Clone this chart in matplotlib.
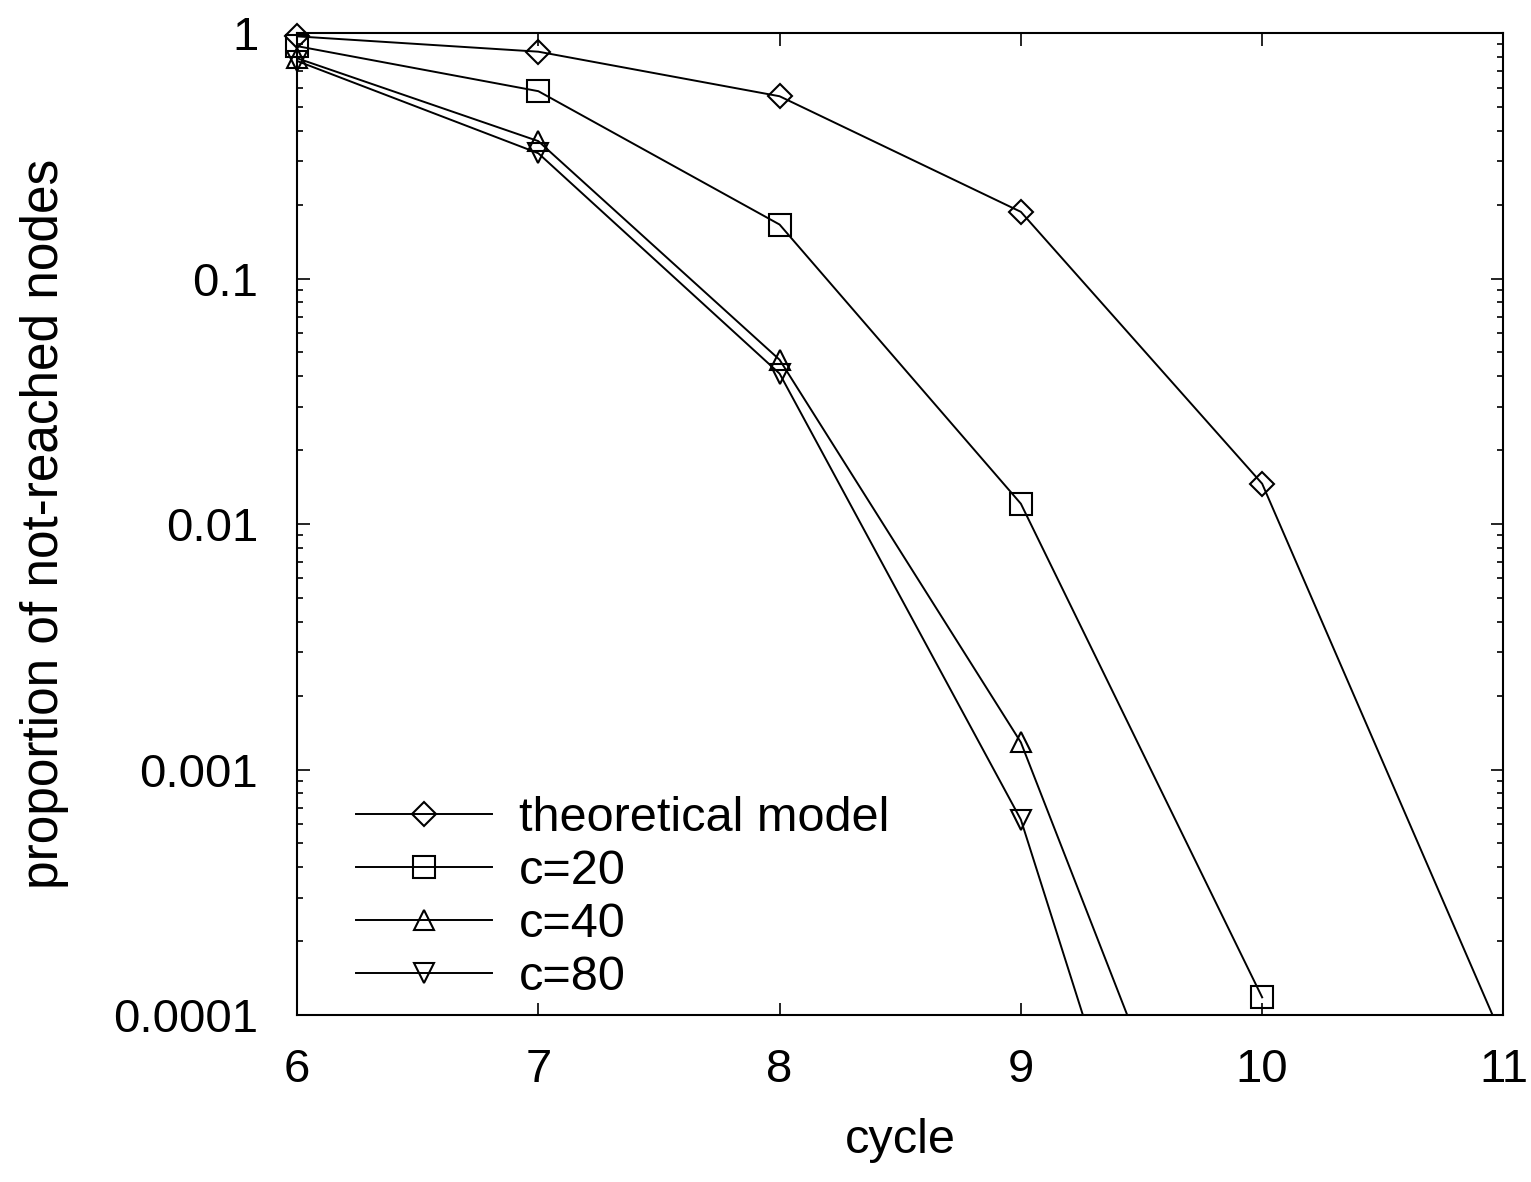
import matplotlib
matplotlib.use("Agg")
import matplotlib.pyplot as plt
import numpy as np
from matplotlib.legend_handler import HandlerTuple
from matplotlib.ticker import LogLocator, NullFormatter

plt.rcParams['font.family'] = ['Liberation Sans', 'DejaVu Sans']

cycles = [6, 7, 8, 9, 10, 11]
theoretical = [0.97, 0.84, 0.553, 0.187, 0.0146, 0.000079]
c20 = [0.885, 0.58, 0.166, 0.0121, 0.000118]
c40 = [0.79, 0.363, 0.0467, 0.00129, 0.0000039]
c80 = [0.77, 0.324, 0.041, 0.000625, 0.0000005]

series = [
    ("theoretical model", theoretical, 'D', 12),
    ("c=20", c20, 's', 16),
    ("c=40", c40, '^', 15),
    ("c=80", c80, 'v', 15),
]

fig = plt.figure(figsize=(15.31, 11.82), dpi=100)
ax = fig.add_axes([0.194, 0.1413, 0.788, 0.8307])

ymin, ymax = 1e-4, 1.0
handles = []
labels = []
for label, vals, mk, ms in series:
    x = np.array(cycles[:len(vals)], dtype=float)
    y = np.array(vals, dtype=float)
    ln, = ax.plot(x, y, color='black', lw=1.4, clip_on=True)
    keep = (y >= ymin) & (y <= 1.05)
    mks, = ax.plot(x[keep], y[keep], linestyle='none', marker=mk, ms=ms,
                   mfc='none', mec='black', mew=1.5, clip_on=False)
    handles.append((ln, mks))
    labels.append(label)

ax.set_yscale('log')
ax.set_xlim(6, 11)
ax.set_ylim(ymin, ymax)
ax.set_xticks([6, 7, 8, 9, 10, 11])
ax.set_xticklabels(['6', '7', '8', '9', '10', '11'])
ax.set_yticks([0.0001, 0.001, 0.01, 0.1, 1])
ax.set_yticklabels(['0.0001', '0.001', '0.01', '0.1', '1'])
ax.yaxis.set_minor_locator(LogLocator(base=10, subs=np.arange(2, 10), numticks=20))
ax.yaxis.set_minor_formatter(NullFormatter())

ax.tick_params(which='both', direction='in', top=True, right=True, labelsize=34, width=1.2)
ax.tick_params(which='major', length=9)
ax.tick_params(which='minor', length=4.5)
ax.tick_params(axis='x', which='major', pad=24)
ax.tick_params(axis='y', which='major', pad=28)
for s in ax.spines.values():
    s.set_linewidth(1.5)

ax.set_xlabel('cycle', fontsize=35)
ax.set_ylabel('proportion of not-reached nodes', fontsize=37)
ax.xaxis.set_label_coords(0.5, -0.105)
ax.yaxis.set_label_coords(-0.189, 0.5)

leg = ax.legend(handles, labels, handler_map={tuple: HandlerTuple(ndivide=1)},
                loc='upper left', bbox_to_anchor=(0.0325, 0.2425), frameon=False,
                fontsize=35, handlelength=2.8, handletextpad=0.55,
                labelspacing=0.16, borderaxespad=0)

fig.savefig('out.png', dpi=100)
